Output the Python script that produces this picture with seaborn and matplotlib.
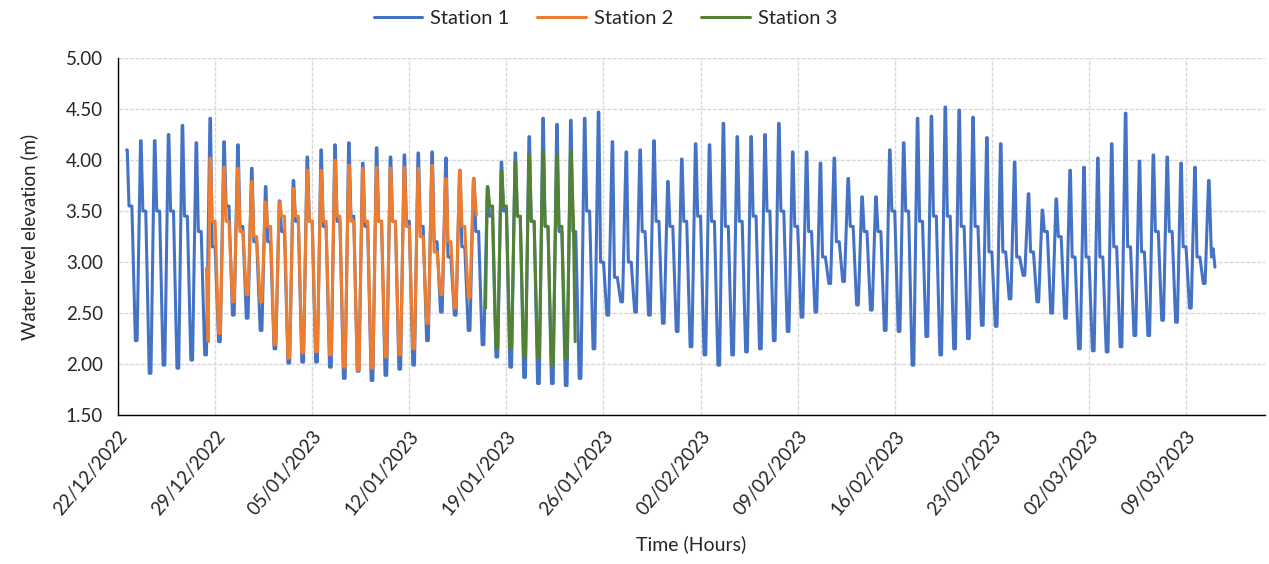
import matplotlib
matplotlib.use("Agg")
from matplotlib import pyplot as plt
import matplotlib.dates as mdates
import pandas as pd
import seaborn as sns

# daily tide values (high water, shoulder on the ebb, low water before next high)
s1_first_high = "2022-12-22 15:00"
s1_high = [4.10, 4.19, 4.19, 4.25, 4.34, 4.17, 4.41, 4.18, 4.15, 3.92, 3.74, 3.60, 3.80, 4.03,
           4.10, 4.15, 4.17, 3.97, 4.12, 4.03, 4.05, 4.07, 4.08, 4.02, 3.90, 3.82, 3.72, 3.98,
           4.07, 4.23, 4.41, 4.35, 4.39, 4.41, 4.47, 4.18, 4.08, 4.10, 4.19, 3.79, 4.01, 4.16,
           4.15, 4.36, 4.23, 4.23, 4.25, 4.36, 4.08, 4.08, 3.97, 4.02, 3.82, 3.64, 3.64, 4.10,
           4.17, 4.41, 4.43, 4.52, 4.49, 4.42, 4.22, 4.16, 3.98, 3.67, 3.51, 3.62, 3.90, 3.93,
           4.02, 4.16, 4.46, 3.99, 4.05, 4.03, 3.97, 3.93, 3.80]
s1_mid = [3.55, 3.50, 3.50, 3.50, 3.45, 3.30, 3.15, 3.55, 3.35, 3.20, 3.20, 3.30, 3.40, 3.40,
          3.35, 3.40, 3.45, 3.35, 3.40, 3.40, 3.40, 3.35, 3.20, 3.05, 3.15, 3.30, 3.45, 3.50,
          3.45, 3.40, 3.35, 3.30, 3.30, 3.50, 3.00, 2.85, 3.00, 3.30, 3.40, 3.35, 3.40, 3.45,
          3.40, 3.35, 3.40, 3.45, 3.50, 3.50, 3.35, 3.30, 3.05, 3.20, 3.35, 3.30, 3.30, 3.50,
          3.50, 3.40, 3.45, 3.45, 3.35, 3.35, 3.10, 3.10, 3.05, 3.10, 3.30, 3.25, 3.05, 3.05,
          3.05, 3.15, 3.15, 3.10, 3.30, 3.30, 3.15, 3.05]
s1_low = [2.23, 1.91, 1.99, 1.96, 2.04, 2.09, 2.22, 2.48, 2.45, 2.33, 2.15, 2.01, 2.02, 2.02,
          1.97, 1.86, 1.93, 1.84, 1.89, 1.95, 1.99, 2.23, 2.51, 2.48, 2.33, 2.19, 2.07, 1.97,
          1.87, 1.81, 1.81, 1.79, 1.86, 2.15, 2.48, 2.61, 2.51, 2.48, 2.40, 2.32, 2.17, 2.09,
          1.99, 2.09, 2.12, 2.15, 2.23, 2.32, 2.46, 2.51, 2.79, 2.81, 2.58, 2.53, 2.33, 2.32,
          1.99, 2.27, 2.09, 2.15, 2.25, 2.38, 2.37, 2.64, 2.87, 2.61, 2.50, 2.45, 2.15, 2.13,
          2.12, 2.17, 2.28, 2.28, 2.43, 2.41, 2.55, 2.79]
s1_head = []
s1_tail = [3.05, 3.13, 2.95]

s2_first_high = "2022-12-28 15:00"
s2_high = [4.02, 3.93, 3.92, 3.79, 3.59, 3.59, 3.72, 3.90, 3.90, 4.00, 3.95, 3.92, 3.93, 3.92,
           3.93, 3.92, 3.95, 3.82, 3.90, 3.82]
s2_mid = [3.40, 3.40, 3.30, 3.25, 3.35, 3.45, 3.45, 3.40, 3.40, 3.45, 3.40, 3.40, 3.40, 3.40,
          3.35, 3.25, 3.10, 3.20, 3.35]
s2_low = [2.30, 2.61, 2.68, 2.61, 2.19, 2.06, 2.11, 2.12, 2.09, 1.97, 1.94, 1.96, 2.07, 2.09,
          2.15, 2.40, 2.68, 2.55, 2.65]
s2_head = [2.94, 2.22]
s2_tail = [3.46]

s3_first_high = "2023-01-17 15:00"
s3_high = [3.74, 3.90, 3.98, 4.05, 4.08, 4.05, 4.10]
s3_mid = [3.55, 3.55, 3.45, 3.40, 3.35, 3.35]
s3_low = [2.15, 2.15, 2.07, 2.06, 1.99, 2.06]
s3_head = [2.55]
s3_tail = [3.40, 2.22]

stations = ["Station 1", "Station 2", "Station 3"]
colors = ["#4472C4", "#ED7D31", "#548235"]


def tide_frame(name, first_high, highs, mids, lows, head, tail):
    t0 = pd.Timestamp(first_high)
    h = pd.Timedelta(hours=1)
    rows = []
    for i, v in enumerate(head):
        rows.append((t0 - (len(head) - i) * 3 * h, v))
    for k, v in enumerate(highs):
        tk = t0 + pd.Timedelta(days=k)
        rows.append((tk, v))
        rows.append((tk + h, v))
        if k < len(mids):
            rows.append((tk + 4 * h, mids[k]))
            rows.append((tk + 9 * h, mids[k]))
            rows.append((tk + 15 * h, lows[k]))
            rows.append((tk + 18 * h, lows[k]))
    t_last = t0 + pd.Timedelta(days=len(highs) - 1)
    for i, v in enumerate(tail):
        rows.append((t_last + (5 + 3 * i) * h, v))
    df = pd.DataFrame(rows, columns=["time", "level"])
    df["station"] = name
    return df


df = pd.concat([
    tide_frame(stations[0], s1_first_high, s1_high, s1_mid, s1_low, s1_head, s1_tail),
    tide_frame(stations[1], s2_first_high, s2_high, s2_mid, s2_low, s2_head, s2_tail),
    tide_frame(stations[2], s3_first_high, s3_high, s3_mid, s3_low, s3_head, s3_tail),
], ignore_index=True)

sns.set_style("whitegrid")
plt.rcParams["font.family"] = ["Lato", "DejaVu Sans"]

fig, ax = plt.subplots(figsize=(12.69, 5.64), dpi=100)
fig.subplots_adjust(left=0.093, right=0.997, top=0.897, bottom=0.264)

sns.lineplot(data=df, x="time", y="level", hue="station", hue_order=stations,
             palette=colors, estimator=None, sort=False, linewidth=2.2, ax=ax)

ax.set_ylim(1.5, 5.0)
ax.set_yticks([1.5, 2.0, 2.5, 3.0, 3.5, 4.0, 4.5, 5.0])
ax.yaxis.set_major_formatter(matplotlib.ticker.FormatStrFormatter("%.2f"))
ax.set_xlim(pd.Timestamp("2022-12-22"), pd.Timestamp("2023-03-14 17:00"))
ax.set_xticks(pd.date_range("2022-12-22", "2023-03-09", freq="7D"))
ax.xaxis.set_major_formatter(mdates.DateFormatter("%d/%m/%Y"))
plt.setp(ax.get_xticklabels(), rotation=50, ha="right", rotation_mode="anchor")

ax.grid(True, color="#d9d9d9", linestyle=(0, (3, 1)), linewidth=1.0)
for side in ["top", "right"]:
    ax.spines[side].set_visible(False)
for side in ["left", "bottom"]:
    ax.spines[side].set_color("#000000")
    ax.spines[side].set_linewidth(1.0)
ax.tick_params(axis="both", which="major", labelsize=13.5, length=5, width=1,
               color="#000000", direction="out", labelcolor="#262626")
ax.tick_params(axis="y", pad=6)
ax.tick_params(axis="x", pad=4)

ax.set_xlabel("Time (Hours)", fontsize=14, color="#262626", labelpad=12)
ax.set_ylabel("Water level elevation (m)", fontsize=13.5, color="#262626", labelpad=20)

handles, labels = ax.get_legend_handles_labels()
ax.get_legend().remove()
fig.legend(handles, labels, loc="center", bbox_to_anchor=(0.477, 0.968), ncol=3,
           frameon=False, fontsize=14.5, handlelength=2.4, columnspacing=1.4, handletextpad=0.4)

fig.savefig("out.png", dpi=100)
